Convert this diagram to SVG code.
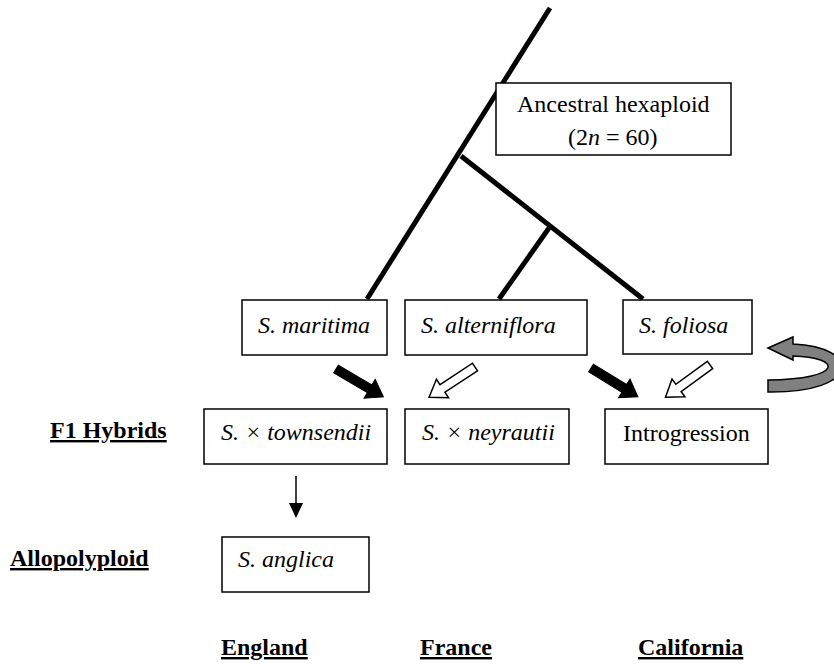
<svg xmlns="http://www.w3.org/2000/svg" width="834" height="664" viewBox="0 0 834 664">
<style>
.box{fill:#fff;stroke:#000;stroke-width:1.5}
.t{font-family:"Liberation Serif",serif;font-size:24px;fill:#000}
.i{font-style:italic}
.lab{font-family:"Liberation Serif",serif;font-size:24px;font-weight:bold;fill:#000;text-decoration:underline}
.tree{stroke:#000;stroke-width:5;fill:none}
.blk{fill:#000;stroke:#000;stroke-width:1}
.wht{fill:#fff;stroke:#000;stroke-width:1.5}
</style>
<defs>
<path id="blockArrow" d="M0,-4.5 L39,-4.5 L39,-11 L55,0 L39,11 L39,4.5 L0,4.5 Z"/>
</defs>
<g id="connectors">
<line class="tree" x1="550" y1="8" x2="367" y2="299"/>
<line class="tree" x1="461" y1="156" x2="643" y2="299"/>
<line class="tree" x1="549" y1="228" x2="499" y2="299"/>
<use href="#blockArrow" class="blk" transform="translate(336,369) rotate(30.5)"/>
<use href="#blockArrow" class="wht" transform="translate(475,367) rotate(146.6)"/>
<use href="#blockArrow" class="blk" transform="translate(591,368) rotate(31.5)"/>
<use href="#blockArrow" class="wht" transform="translate(710,365) rotate(144)"/>
<line x1="296" y1="476" x2="296" y2="505" stroke="#000" stroke-width="1.5"/>
<polygon points="289,503 303,503 296,518" fill="#000"/>
<path d="M768,348 L793,337 L793,344 C862,347 862,393 768,392 L768,380 C845,379 842,357 793,356 L793,360 Z" fill="#808080" stroke="#000" stroke-width="1.5"/>
</g>
<g id="ancestral"><rect class="box" x="496" y="83" width="235" height="72"/><text class="t" x="517" y="112">Ancestral hexaploid</text><text class="t" x="568" y="145">(2<tspan class="i">n</tspan> = 60)</text></g>
<g id="maritima"><rect class="box" x="242" y="300" width="145" height="55"/><text class="t i" x="258" y="333">S. maritima</text></g>
<g id="alterniflora"><rect class="box" x="405" y="300" width="182" height="55"/><text class="t i" x="421" y="333">S. alterniflora</text></g>
<g id="foliosa"><rect class="box" x="623" y="300" width="129" height="54"/><text class="t i" x="639" y="333">S. foliosa</text></g>
<g id="townsendii"><rect class="box" x="204" y="409" width="183" height="55"/><text class="t i" x="221" y="440">S. × townsendii</text></g>
<g id="neyrautii"><rect class="box" x="405" y="409" width="164" height="55"/><text class="t i" x="422" y="440">S. × neyrautii</text></g>
<g id="introgression"><rect class="box" x="605" y="409" width="163" height="55"/><text class="t" x="623" y="441">Introgression</text></g>
<g id="anglica"><rect class="box" x="222" y="537" width="147" height="55"/><text class="t i" x="238" y="567">S. anglica</text></g>
<g id="labels">
<text class="lab" x="50" y="438">F1 Hybrids</text>
<text class="lab" x="10" y="566">Allopolyploid</text>
<text class="lab" x="221" y="655">England</text>
<text class="lab" x="420" y="655">France</text>
<text class="lab" x="638" y="655">California</text>
</g>
</svg>
